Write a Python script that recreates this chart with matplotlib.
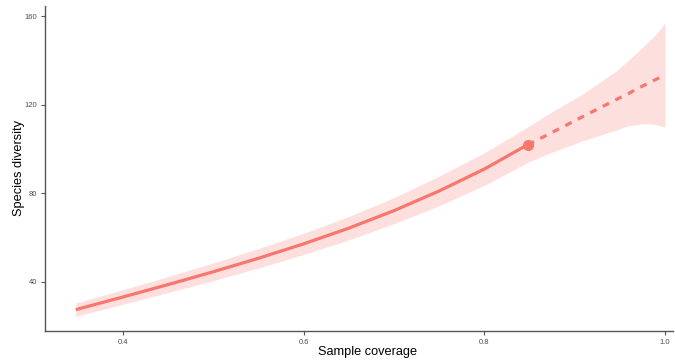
import matplotlib
matplotlib.use("Agg")
import matplotlib.pyplot as plt

# Observed (interpolated) part
cov_obs = [0.348, 0.40, 0.45, 0.50, 0.55, 0.60, 0.65, 0.70, 0.75, 0.80, 0.848]
div_obs = [27.5, 33.2, 38.8, 44.6, 50.7, 57.2, 64.3, 72.2, 81.1, 91.0, 102.0]
lo_obs = [24.5, 29.9, 35.2, 40.6, 46.3, 52.4, 59.0, 66.3, 74.4, 83.6, 94.0]
hi_obs = [30.5, 36.5, 42.4, 48.6, 55.1, 62.0, 69.6, 78.1, 87.8, 98.4, 110.0]

# Extrapolated part
cov_ext = [0.848, 0.871, 0.907, 0.945, 0.959, 0.975, 0.989, 1.0]
div_ext = [102.0, 106.7, 114.3, 122.2, 125.0, 128.5, 131.3, 133.6]
lo_ext = [94.0, 98.0, 103.5, 108.5, 110.5, 111.5, 111.2, 110.0]
hi_ext = [110.0, 116.0, 124.5, 135.0, 140.0, 146.0, 151.5, 157.0]

# Reference sample
obs_cov = [0.848]
obs_div = [102.0]

xticks = [0.4, 0.6, 0.8, 1.0]
yticks = [40, 80, 120, 160]

color = "#F8766D"
plt.rcParams['font.family'] = ['Liberation Sans', 'DejaVu Sans']

fig = plt.figure(figsize=(6.75, 3.62), dpi=100)
ax = fig.add_axes([0.0674, 0.0856, 0.9296, 0.898])

ax.fill_between(cov_obs + cov_ext[1:], lo_obs + lo_ext[1:], hi_obs + hi_ext[1:],
                color=color, alpha=0.22, linewidth=0)
ax.plot(cov_obs, div_obs, color=color, linewidth=2.3, solid_capstyle='butt')
ax.plot(cov_ext, div_ext, color=color, linewidth=2.3, linestyle=(0, (2.2, 2.2)))
ax.plot(obs_cov, obs_div, 'o', color=color, markersize=7)

ax.set_xlim(0.3145, 1.0088)
ax.set_ylim(17.85, 164.7)
ax.set_xticks(xticks)
ax.set_xticklabels([f"{t:.1f}" for t in xticks])
ax.set_yticks(yticks)

for s in ['top', 'right']:
    ax.spines[s].set_visible(False)
for s in ['left', 'bottom']:
    ax.spines[s].set_color('#555555')
    ax.spines[s].set_linewidth(1.0)

ax.tick_params(axis='both', colors='#555555', labelsize=5.5, length=3, width=0.8,
               labelcolor='#4D4D4D', pad=3)

ax.set_xlabel("Sample coverage", fontsize=9.2)
ax.xaxis.set_label_coords(0.514, -0.045, transform=ax.transAxes)
ax.xaxis.label.set_va('top')
ax.set_ylabel("Species diversity", fontsize=9.2, labelpad=0)

fig.savefig("out.png", dpi=100)
